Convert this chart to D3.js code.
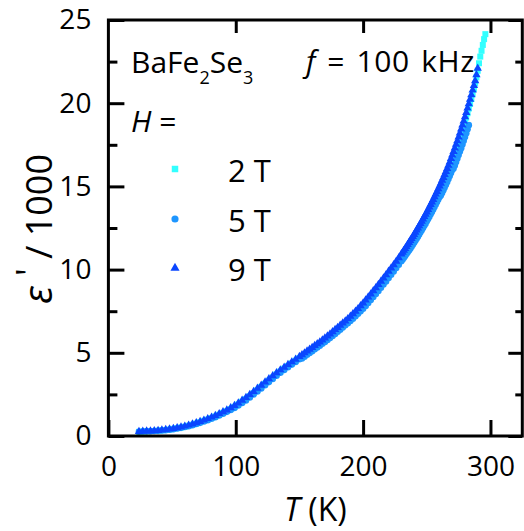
<!DOCTYPE html>
<html>
<head>
<meta charset="utf-8">
<script src="https://cdn.jsdelivr.net/npm/d3@7"></script>
<style>
  html, body { margin: 0; padding: 0; background: #fff; }
  svg { display: block; }
  text { font-family: "Open Sans", sans-serif; fill: #000; }
</style>
</head>
<body>
<svg id="chart" width="524" height="531"></svg>
<script>
// Temperature grid (K) shared by the three field runs
const temperatureK = [
  24,27,30,33,36,39,42,45,48,51,54,57,60,63,66,69,72,75,78,81,84,87,90,93,96,99,102,105,108,111,114,117,120,123,126,129,132,135,138,141,144,147,150,
  152,154,156,158,160,162,164,166,168,170,172,174,176,178,180,182,184,186,188,190,192,194,196,198,200,202,204,206,208,210,212,214,216,218,220,222,224,226,228,230,
  231,232,233,234,235,236,237,238,239,240,241,242,243,244,245,246,247,248,249,250,251,252,253,254,255,256,257,258,259,260,
  261,262,263,264,265,266,267,268,269,270,271,272,273,274,275,276,277,278,279,280,281,282,283,284,285,286,287,288,289,290,
  291,292,293,294,295,296
];

// Dielectric constant eps'/1000 at 100 kHz, one array per magnetic field
const epsilon2T = [
  0.25,0.27,0.28,0.29,0.30,0.32,0.34,0.36,0.39,0.43,0.47,0.51,0.56,0.62,0.68,0.75,0.83,0.91,0.99,1.08,
  1.18,1.28,1.39,1.50,1.62,1.76,1.90,2.06,2.22,2.40,2.58,2.76,2.95,3.14,3.33,3.52,3.71,3.88,4.05,4.21,
  4.37,4.53,4.69,
  4.77,4.88,4.99,5.10,5.21,5.32,5.43,5.54,5.65,5.77,5.89,6.01,6.13,6.26,6.39,6.52,6.65,6.78,6.91,7.05,
  7.19,7.34,7.49,7.65,7.82,7.99,8.17,8.35,8.53,8.72,8.91,9.10,9.29,9.49,9.69,9.89,10.09,10.29,10.50,10.71,
  10.82,10.93,11.04,11.15,11.26,11.38,11.50,11.62,11.74,11.86,11.98,12.11,12.24,12.37,12.50,12.63,12.76,12.90,13.04,13.18,
  13.32,13.46,13.61,13.76,13.91,14.06,14.21,14.37,14.53,14.69,14.85,15.02,15.19,15.36,15.53,15.71,15.89,16.07,16.26,16.46,
  16.68,16.90,17.13,17.36,17.60,17.84,18.09,18.34,18.60,18.86,19.13,19.40,19.68,19.96,20.25,20.55,20.86,21.18,21.55,21.95,
  22.40,22.80,23.15,23.50,23.85,24.15
];
const epsilon5T = [
  0.26,0.27,0.28,0.29,0.30,0.31,0.33,0.35,0.38,0.41,0.45,0.49,0.54,0.59,0.65,0.72,0.79,0.87,0.95,1.04,
  1.13,1.23,1.34,1.45,1.56,1.69,1.83,1.98,2.14,2.31,2.49,2.67,2.86,3.05,3.24,3.43,3.62,3.80,3.97,4.13,
  4.29,4.45,4.61,
  4.66,4.77,4.88,4.99,5.10,5.21,5.32,5.43,5.54,5.65,5.77,5.89,6.01,6.13,6.26,6.39,6.52,6.65,6.78,6.91,
  7.05,7.19,7.34,7.49,7.65,7.82,7.99,8.17,8.35,8.53,8.72,8.91,9.10,9.29,9.49,9.69,9.89,10.09,10.29,10.50,
  10.60,10.71,10.82,10.93,11.04,11.15,11.26,11.38,11.50,11.62,11.74,11.86,11.98,12.11,12.24,12.37,12.50,12.63,12.76,12.90,
  13.04,13.18,13.32,13.46,13.61,13.76,13.91,14.06,14.21,14.37,14.45,14.61,14.77,14.94,15.10,15.27,15.44,15.62,15.80,15.98,
  16.07,16.26,16.46,16.67,16.88,17.09,17.30,17.52,17.74,17.97,18.20,18.44,18.68
];
const epsilon9T = [
  0.27,0.28,0.29,0.30,0.31,0.33,0.35,0.38,0.41,0.45,0.49,0.54,0.59,0.65,0.72,0.79,0.87,0.95,1.04,1.13,
  1.23,1.34,1.45,1.56,1.69,1.83,1.98,2.14,2.31,2.49,2.67,2.86,3.05,3.24,3.43,3.62,3.80,3.97,4.13,4.29,
  4.45,4.61,4.77,
  4.88,4.99,5.10,5.21,5.32,5.43,5.54,5.65,5.77,5.89,6.01,6.13,6.26,6.39,6.52,6.65,6.78,6.91,7.05,7.19,
  7.34,7.49,7.65,7.82,7.99,8.17,8.35,8.53,8.72,8.91,9.10,9.29,9.49,9.69,9.89,10.09,10.29,10.50,10.71,10.93,
  11.04,11.15,11.26,11.38,11.50,11.62,11.74,11.86,11.98,12.11,12.24,12.37,12.50,12.63,12.76,12.90,13.04,13.18,13.32,13.46,
  13.61,13.76,13.91,14.06,14.21,14.37,14.53,14.69,14.85,15.02,15.19,15.36,15.53,15.71,15.89,16.07,16.26,16.46,16.67,16.88,
  17.09,17.30,17.52,17.74,17.97,18.20,18.44,18.68,18.93,19.18,19.44,19.70,19.96,20.23,20.50,20.78,21.06,21.35,21.70,22.10
];

const fieldLabels = ["2 T", "5 T", "9 T"];
const xTickValues = [0, 100, 200, 300];
const yTickValues = [0, 5, 10, 15, 20, 25];
const yMinorTickValues = [2.5, 7.5, 12.5, 17.5, 22.5];

// Styling for each field run (drawn in this order: 2 T at the back, 9 T in front)
const markerColors = ["#33FFFF", "#1E96FF", "#0A46FF"];
const markerShapes = [d3.symbolSquare, d3.symbolCircle, d3.symbolTriangle];
const markerSizes = [36, 34, 30];
const seriesValues = [epsilon2T, epsilon5T, epsilon9T];

const svg = d3.select("#chart");
const plot = { left: 108.4, right: 522.3, top: 20, bottom: 436 };

const x = d3.scaleLinear().domain([0, 325]).range([plot.left, plot.right]);
const y = d3.scaleLinear().domain([0, 25]).range([plot.bottom, plot.top]);

// Data markers
seriesValues.forEach((values, k) => {
  const pts = values.map((v, i) => ({ t: temperatureK[i], v }));
  svg.append("g")
    .selectAll("path")
    .data(pts)
    .join("path")
    .attr("transform", d => `translate(${x(d.t)},${y(d.v)})`)
    .attr("d", d3.symbol(markerShapes[k], markerSizes[k]))
    .attr("fill", markerColors[k]);
});

// Axes with inward ticks
function styleAxis(g, fontSize) {
  g.select(".domain").remove();
  g.selectAll(".tick line").attr("stroke", "#000").attr("stroke-width", 3);
  g.selectAll(".tick text")
    .attr("font-family", "'Open Sans', sans-serif")
    .attr("font-size", fontSize)
    .attr("fill", "#000");
}

svg.append("g")
  .attr("transform", `translate(0,${plot.bottom})`)
  .call(d3.axisBottom(x).tickValues(xTickValues).tickSizeInner(-16).tickSizeOuter(0)
    .tickPadding(20).tickFormat(d3.format("d")))
  .call(g => styleAxis(g, 28));

svg.append("g")
  .attr("transform", `translate(0,${plot.top})`)
  .call(d3.axisTop(x).tickValues(xTickValues.slice(1)).tickSizeInner(-13).tickSizeOuter(0).tickFormat(""))
  .call(g => styleAxis(g, 28));

svg.append("g")
  .attr("transform", `translate(${plot.left},0)`)
  .call(d3.axisLeft(y).tickValues(yTickValues).tickSizeInner(-16).tickSizeOuter(0)
    .tickPadding(17).tickFormat(d3.format("d")))
  .call(g => styleAxis(g, 28));

svg.append("g")
  .attr("transform", `translate(${plot.left},0)`)
  .call(d3.axisLeft(y).tickValues(yMinorTickValues).tickSizeInner(-9).tickSizeOuter(0).tickFormat(""))
  .call(g => styleAxis(g, 28));

svg.append("g")
  .attr("transform", `translate(${plot.right},0)`)
  .call(d3.axisRight(y).tickValues(yTickValues).tickSizeInner(-14).tickSizeOuter(0).tickFormat(""))
  .call(g => styleAxis(g, 28));

svg.append("g")
  .attr("transform", `translate(${plot.right},0)`)
  .call(d3.axisRight(y).tickValues(yMinorTickValues).tickSizeInner(-7).tickSizeOuter(0).tickFormat(""))
  .call(g => styleAxis(g, 28));

// Plot frame
svg.append("rect")
  .attr("x", plot.left).attr("y", plot.top)
  .attr("width", plot.right - plot.left).attr("height", plot.bottom - plot.top)
  .attr("fill", "none").attr("stroke", "#000").attr("stroke-width", 3);

// Axis titles
const xTitle = svg.append("text")
  .attr("x", (plot.left + plot.right) / 2).attr("y", 521)
  .attr("text-anchor", "middle").attr("font-size", 32);
xTitle.append("tspan").attr("font-style", "italic").text("T");
xTitle.append("tspan").text(" (K)");

const yTitle = svg.append("text")
  .attr("transform", `translate(52,${(plot.top + plot.bottom) / 2 + 1}) rotate(-90)`)
  .attr("text-anchor", "middle").attr("font-size", 36);
yTitle.append("tspan").attr("font-style", "italic").attr("font-size", 40).text("\u03B5");
yTitle.append("tspan").attr("dx", 10).attr("dy", -10).text("'");
yTitle.append("tspan").attr("dy", 10).text(" / 1000");

// Sample and measurement annotations
const sample = svg.append("text").attr("x", 131).attr("y", 73).attr("font-size", 30);
sample.append("tspan").text("BaFe");
sample.append("tspan").attr("font-size", 18).attr("dy", 11).text("2");
sample.append("tspan").attr("dy", -11).text("Se");
sample.append("tspan").attr("font-size", 18).attr("dy", 11).text("3");

const freq = svg.append("text").attr("x", 306).attr("y", 72).attr("font-size", 30)
  .attr("word-spacing", 3).attr("letter-spacing", 0.6);
freq.append("tspan").attr("font-style", "italic").text("f");
freq.append("tspan").text(" = 100 kHz");

const field = svg.append("text").attr("x", 131).attr("y", 132).attr("font-size", 30);
field.append("tspan").attr("font-style", "italic").text("H");
field.append("tspan").text(" =");

// Legend
const legendY = [169, 219, 268];
fieldLabels.forEach((label, k) => {
  svg.append("path")
    .attr("transform", `translate(175,${legendY[k]})`)
    .attr("d", d3.symbol(markerShapes[k], markerSizes[k] + 6))
    .attr("fill", markerColors[k]);
  svg.append("text")
    .attr("x", 228).attr("y", legendY[k] + 12.5)
    .attr("font-size", 31)
    .text(label);
});
</script>
</body>
</html>
